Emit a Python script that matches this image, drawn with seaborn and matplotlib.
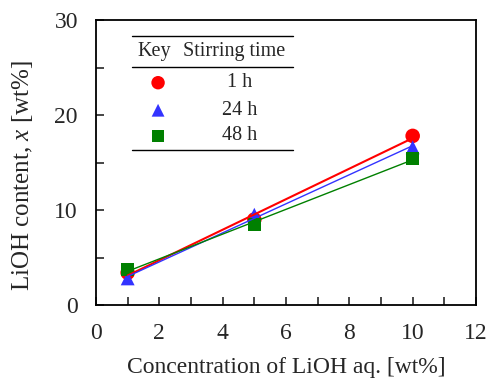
import numpy as np
import pandas as pd
import matplotlib
matplotlib.use("Agg")
import matplotlib.pyplot as plt
from matplotlib.ticker import MultipleLocator
import seaborn as sns

conc = [1, 5, 10]
x_1h = [3.4, 9.0, 17.8]
x_24h = [2.8, 9.5, 16.6]
x_48h = [3.7, 8.5, 15.4]
labels = ["1 h", "24 h", "48 h"]

sns.set_style("ticks")
plt.rcParams["font.family"] = ["Liberation Serif", "DejaVu Serif"]
plt.rcParams["mathtext.fontset"] = "custom"
plt.rcParams["mathtext.it"] = "Liberation Serif:italic"
plt.rcParams["mathtext.rm"] = "Liberation Serif"

fig = plt.figure(figsize=(4.87, 3.82), dpi=100)
ax = fig.add_axes([96 / 487, 1 - 305 / 382, 380 / 487, 285 / 382])

styles = [("#ff0000", "o", 110, 1.5), ("#3333ff", "^", 100, 1.0), ("#008000", "s", 85, 1.0)]
for vals, (c, m, s, lw) in zip([x_1h, x_24h, x_48h], styles):
    df = pd.DataFrame({"c": conc, "x": vals})
    sns.regplot(data=df, x="c", y="x", ax=ax, ci=None, truncate=True, marker=m,
                scatter_kws={"color": c, "s": s, "edgecolor": "none", "alpha": 1},
                line_kws={"color": c, "lw": lw, "zorder": 3})

ax.set_xlim(0, 12)
ax.set_ylim(0, 30)
ax.xaxis.set_major_locator(MultipleLocator(2))
ax.xaxis.set_minor_locator(MultipleLocator(1))
ax.yaxis.set_major_locator(MultipleLocator(10))
ax.yaxis.set_minor_locator(MultipleLocator(5))
ax.tick_params(which="both", direction="in", top=False, right=False, labelsize=17, width=1.2)
ax.tick_params(which="major", length=6)
ax.tick_params(which="minor", length=6)
ax.tick_params(axis="x", which="major", pad=13)
ax.tick_params(axis="y", which="major", pad=13)
for sp in ax.spines.values():
    sp.set_linewidth(1.3)
    sp.set_color("black")
ax.set_xlabel("Concentration of LiOH aq. [wt%]", fontsize=17, labelpad=9)
ax.set_ylabel("LiOH content, $x$ [wt%]", fontsize=18)
ax.yaxis.set_label_coords(-0.16, 0.455)

# table-style key
for yy in [28.3, 25.05, 16.3]:
    ax.plot([1.14, 6.22], [yy, yy], color="black", lw=1.0, clip_on=False)
ax.text(1.85, 26.65, "Key", fontsize=14.5, ha="center", va="center")
ax.text(4.36, 26.65, "Stirring time", fontsize=14.5, ha="center", va="center")
rows = [23.4, 20.5, 17.8]
for yy, lab, (c, m, s, lw) in zip(rows, labels, styles):
    ax.scatter([1.96], [yy], color=c, marker=m, s=s * 0.85, edgecolor="none")
    ax.text(4.53, yy, lab, fontsize=14.5, ha="center", va="center")

fig.savefig("out.png", dpi=100)
